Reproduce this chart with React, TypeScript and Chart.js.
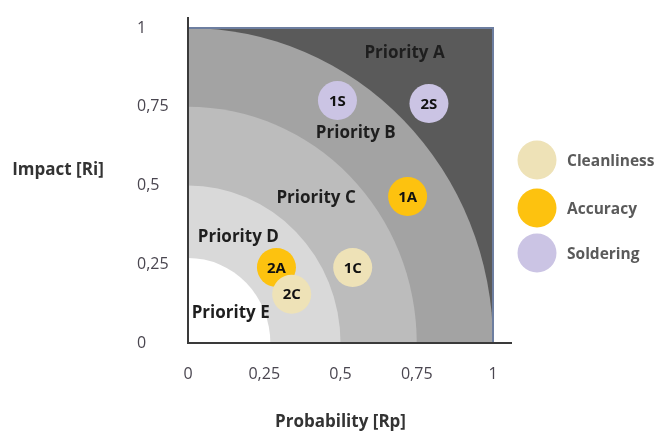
import React, { useEffect, useRef } from "react";
import { Chart, registerables } from "chart.js";

Chart.register(...registerables);

// ---- data ----
const seriesNames = ["Cleanliness", "Accuracy", "Soldering"];
const seriesColors = ["#eee2b7", "#fdc20f", "#cbc4e4"];

const cleanlinessX = [0.54, 0.34];
const cleanlinessY = [0.24, 0.155];
const cleanlinessLabels = ["1C", "2C"];

const accuracyX = [0.72, 0.29];
const accuracyY = [0.465, 0.24];
const accuracyLabels = ["1A", "2A"];

const solderingX = [0.49, 0.79];
const solderingY = [0.77, 0.76];
const solderingLabels = ["1S", "2S"];

const tickValues = [0, 0.25, 0.5, 0.75, 1];

// priority zones (quarter circles around origin)
const zoneNames = ["Priority A", "Priority B", "Priority C", "Priority D", "Priority E"];
const zoneOuterRadius = [1.5, 1, 0.75, 0.5, 0.27];
const zoneColors = ["#5a5a5a", "#a3a3a3", "#bcbcbc", "#d9d9d9", "#ffffff"];
const zoneLabelX = [0.71, 0.55, 0.42, 0.165, 0.14];
const zoneLabelY = [0.92, 0.665, 0.46, 0.335, 0.095];

const xTitle = "Probability [Rp]";
const yTitle = "Impact [Ri]";

const FONT = "'Open Sans', sans-serif";

function pts(xs: number[], ys: number[]) {
  return xs.map((x, i) => ({ x, y: ys[i] }));
}

const pointLabels = [cleanlinessLabels, accuracyLabels, solderingLabels];

const zonesPlugin = {
  id: "zones",
  beforeDatasetsDraw(chart: any) {
    const { ctx, chartArea: a, scales } = chart;
    const xs = scales.x;
    const ys = scales.y;
    const x0 = xs.getPixelForValue(0);
    const y0 = ys.getPixelForValue(0);
    ctx.save();
    ctx.beginPath();
    ctx.rect(a.left, a.top, a.right - a.left, a.bottom - a.top);
    ctx.clip();
    zoneOuterRadius.forEach((r, i) => {
      const rx = xs.getPixelForValue(r) - x0;
      const ry = y0 - ys.getPixelForValue(r);
      ctx.beginPath();
      ctx.moveTo(x0, y0);
      ctx.ellipse(x0, y0, rx, ry, 0, -Math.PI / 2, 0);
      ctx.closePath();
      ctx.fillStyle = zoneColors[i];
      ctx.fill();
    });
    ctx.restore();

    // frame
    ctx.save();
    ctx.strokeStyle = "#6d7ea0";
    ctx.lineWidth = 2;
    ctx.beginPath();
    ctx.moveTo(a.left, a.top);
    ctx.lineTo(a.right, a.top);
    ctx.lineTo(a.right, a.bottom);
    ctx.stroke();
    ctx.strokeStyle = "#3a3a3a";
    ctx.beginPath();
    ctx.moveTo(a.left, a.top - 11);
    ctx.lineTo(a.left, a.bottom);
    ctx.lineTo(a.right + 19, a.bottom);
    ctx.stroke();
    ctx.restore();

    // zone labels
    ctx.save();
    ctx.font = `bold 17px ${FONT}`;
    ctx.fillStyle = "#1e1e1e";
    ctx.textAlign = "center";
    ctx.textBaseline = "middle";
    zoneNames.forEach((n, i) => {
      ctx.fillText(n, xs.getPixelForValue(zoneLabelX[i]), ys.getPixelForValue(zoneLabelY[i]));
    });
    ctx.restore();
  },
  afterDatasetsDraw(chart: any) {
    const { ctx } = chart;
    ctx.save();
    ctx.font = `bold 15px ${FONT}`;
    ctx.fillStyle = "#111111";
    ctx.textAlign = "center";
    ctx.textBaseline = "middle";
    for (let d = chart.data.datasets.length - 1; d >= 0; d--) {
      const meta = chart.getDatasetMeta(d);
      meta.data.forEach((el: any, i: number) => {
        ctx.fillText(pointLabels[d][i], el.x, el.y + 1);
      });
    }
    ctx.restore();
  },
  afterDraw(chart: any) {
    const { ctx, chartArea: a } = chart;
    ctx.save();
    ctx.font = `bold 17px ${FONT}`;
    ctx.fillStyle = "#333333";
    ctx.textAlign = "center";
    ctx.textBaseline = "middle";
    ctx.fillText(yTitle, 58, 170);
    ctx.fillText(xTitle, (a.left + a.right) / 2, 422);
    // legend
    const lx = a.right + 44;
    const ly = [160, 208, 253];
    chart.data.datasets.forEach((ds: any, i: number) => {
      ctx.beginPath();
      ctx.arc(lx, ly[i], 19.5, 0, Math.PI * 2);
      ctx.fillStyle = ds.backgroundColor;
      ctx.fill();
      ctx.font = `bold 15.5px ${FONT}`;
      ctx.fillStyle = "#5a5a5a";
      ctx.textAlign = "left";
      ctx.fillText(ds.label, lx + 30, ly[i] + 2);
    });
    ctx.restore();
  },
};

export default function App() {
  const ref = useRef<HTMLCanvasElement | null>(null);
  useEffect(() => {
    document.body.style.margin = "0";
    if (!ref.current) return;
    const chart = new Chart(ref.current, {
      type: "scatter",
      data: {
        datasets: [
          { label: seriesNames[0], data: pts(cleanlinessX, cleanlinessY), backgroundColor: seriesColors[0] },
          { label: seriesNames[1], data: pts(accuracyX, accuracyY), backgroundColor: seriesColors[1] },
          { label: seriesNames[2], data: pts(solderingX, solderingY), backgroundColor: seriesColors[2] },
        ],
      },
      options: {
        animation: false,
        responsive: false,
        devicePixelRatio: 1,
        layout: { padding: { left: 137, top: 28, right: 164, bottom: 44 } },
        elements: { point: { radius: 19.5, borderWidth: 0, hoverRadius: 19.5 } },
        plugins: { legend: { display: false }, tooltip: { enabled: false } },
        scales: {
          x: {
            type: "linear",
            min: 0,
            max: 1,
            grid: { display: false, drawTicks: false },
            border: { display: false },
            afterBuildTicks: (s: any) => {
              s.ticks = tickValues.map((v) => ({ value: v }));
            },
            afterFit: (s: any) => {
              s.height = 45;
            },
            ticks: {
              padding: 22,
              color: "#4a4650",
              font: { family: FONT, size: 16 },
              callback: (v: any) => String(v).replace(".", ","),
            },
          },
          y: {
            type: "linear",
            min: 0,
            max: 1,
            grid: { display: false, drawTicks: false },
            border: { display: false },
            afterBuildTicks: (s: any) => {
              s.ticks = tickValues.map((v) => ({ value: v }));
            },
            afterFit: (s: any) => {
              s.width = 51;
            },
            ticks: {
              crossAlign: "far",
              color: "#4a4650",
              font: { family: FONT, size: 16 },
              callback: (v: any) => String(v).replace(".", ","),
            },
          },
        },
      },
      plugins: [zonesPlugin],
    });
    return () => chart.destroy();
  }, []);
  return (
    <div style={{ width: 657, height: 432 }}>
      <canvas ref={ref} width={657} height={432} />
    </div>
  );
}
